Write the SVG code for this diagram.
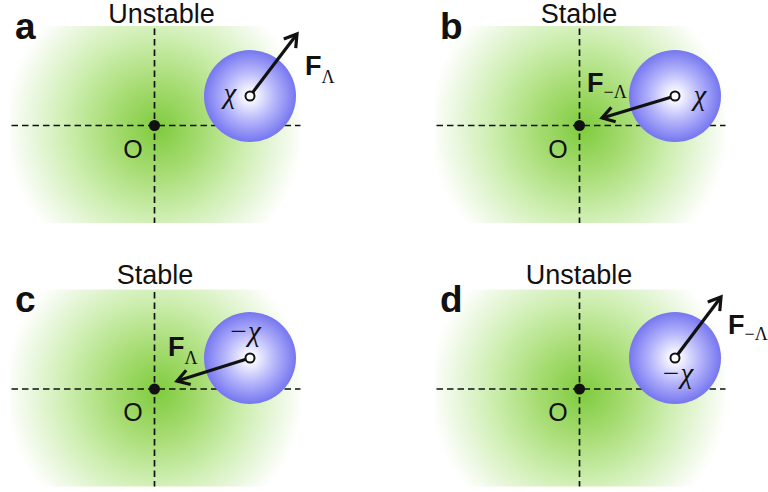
<svg xmlns="http://www.w3.org/2000/svg" xmlns:xlink="http://www.w3.org/1999/xlink" width="768" height="492" viewBox="0 0 768 492">
<style>
.title{font-family:"Liberation Sans",Arial,sans-serif;font-size:27px;fill:#111;text-anchor:middle}
.panel{font-family:"Liberation Sans",Arial,sans-serif;font-size:37px;font-weight:bold;fill:#111}
.olab{font-family:"Liberation Sans",Arial,sans-serif;font-size:25px;fill:#111;text-anchor:middle}
.chi{font-family:"Liberation Serif","Times New Roman",serif;font-size:29px;font-style:italic;fill:#111;text-anchor:middle}
.force{font-family:"Liberation Sans",Arial,sans-serif;font-size:27px;font-weight:bold;fill:#111}
.sub{font-family:"Liberation Serif","Times New Roman",serif;font-size:18px;font-weight:normal}
.axis{stroke:#111;stroke-width:1.7;stroke-dasharray:6.5 4;fill:none}
.arrow{stroke:#111;stroke-width:3.2;fill:none;marker-end:url(#head)}
.ball{fill:url(#blue)}
.pin{fill:#fff;stroke:#111;stroke-width:2}
</style>
<defs>
<radialGradient id="green" gradientUnits="userSpaceOnUse" cx="0" cy="0" r="150" fx="4" fy="3">
<stop offset="0" stop-color="#7fcb3e"/>
<stop offset="0.3" stop-color="#a6dc72"/>
<stop offset="0.6" stop-color="#cdeeb0"/>
<stop offset="0.82" stop-color="#e9f7dd"/>
<stop offset="1" stop-color="#ffffff"/>
</radialGradient>
<radialGradient id="blue" cx="0.5" cy="0.5" r="0.5">
<stop offset="0" stop-color="#ffffff"/>
<stop offset="0.15" stop-color="#f2f2ff"/>
<stop offset="0.55" stop-color="#b4b4fb"/>
<stop offset="1" stop-color="#7676f0"/>
</radialGradient>
<marker id="head" viewBox="-16 -10 20 20" refX="0" refY="0" markerWidth="20" markerHeight="20" markerUnits="userSpaceOnUse" orient="auto">
<path d="M-12,-7.5 L0,0 L-12,7.5" fill="none" stroke="#111" stroke-width="3.2"/>
</marker>
<g id="field">
<rect x="-144" y="-99.5" width="290" height="197" fill="url(#green)"/>
<line class="axis" x1="-143" y1="0" x2="146" y2="0"/>
<line class="axis" x1="0" y1="-97" x2="0" y2="97.5"/>
<circle cx="0" cy="0" r="5.5" fill="#111"/>
<text class="olab" x="-21.5" y="32">O</text>
</g>
</defs>

<g id="panel-a">
<use xlink:href="#field" transform="translate(154.5,125.5)"/>
<text class="panel" x="15" y="39">a</text>
<text class="title" x="161.5" y="23">Unstable</text>
<circle class="ball" cx="250" cy="96" r="46"/>
<text class="chi" x="230" y="103">χ</text>
<text class="force" x="305" y="75">F<tspan class="sub" dy="8">Λ</tspan></text>
</g>

<g id="panel-b">
<use xlink:href="#field" transform="translate(579.5,125.5)"/>
<text class="panel" x="440" y="39">b</text>
<text class="title" x="579" y="23">Stable</text>
<circle class="ball" cx="675" cy="96" r="46"/>
<text class="chi" x="700" y="105">χ</text>
<text class="force" x="587" y="92">F<tspan class="sub" dy="6">−Λ</tspan></text>
</g>

<g id="panel-c">
<use xlink:href="#field" transform="translate(154.5,389)"/>
<text class="panel" x="15" y="312">c</text>
<text class="title" x="155" y="284">Stable</text>
<circle class="ball" cx="250" cy="358" r="46"/>
<text class="chi" x="244.5" y="341">−χ</text>
<text class="force" x="168" y="356">F<tspan class="sub" dy="8">Λ</tspan></text>
</g>

<g id="panel-d">
<use xlink:href="#field" transform="translate(579.5,389)"/>
<text class="panel" x="440" y="312">d</text>
<text class="title" x="579" y="284">Unstable</text>
<circle class="ball" cx="675" cy="358" r="46"/>
<text class="chi" x="677" y="383">−χ</text>
<text class="force" x="728" y="334">F<tspan class="sub" dy="6">−Λ</tspan></text>
</g>

<g id="connectors">
<line class="arrow" x1="250" y1="96" x2="297" y2="34"/>
<line class="arrow" x1="675" y1="96" x2="602" y2="118"/>
<line class="arrow" x1="250" y1="358" x2="177" y2="381"/>
<line class="arrow" x1="675" y1="358" x2="721" y2="297"/>
<circle class="pin" cx="250" cy="96" r="4.5"/>
<circle class="pin" cx="675" cy="96" r="4.5"/>
<circle class="pin" cx="250" cy="358" r="4.5"/>
<circle class="pin" cx="675" cy="358" r="4.5"/>
</g>
</svg>
